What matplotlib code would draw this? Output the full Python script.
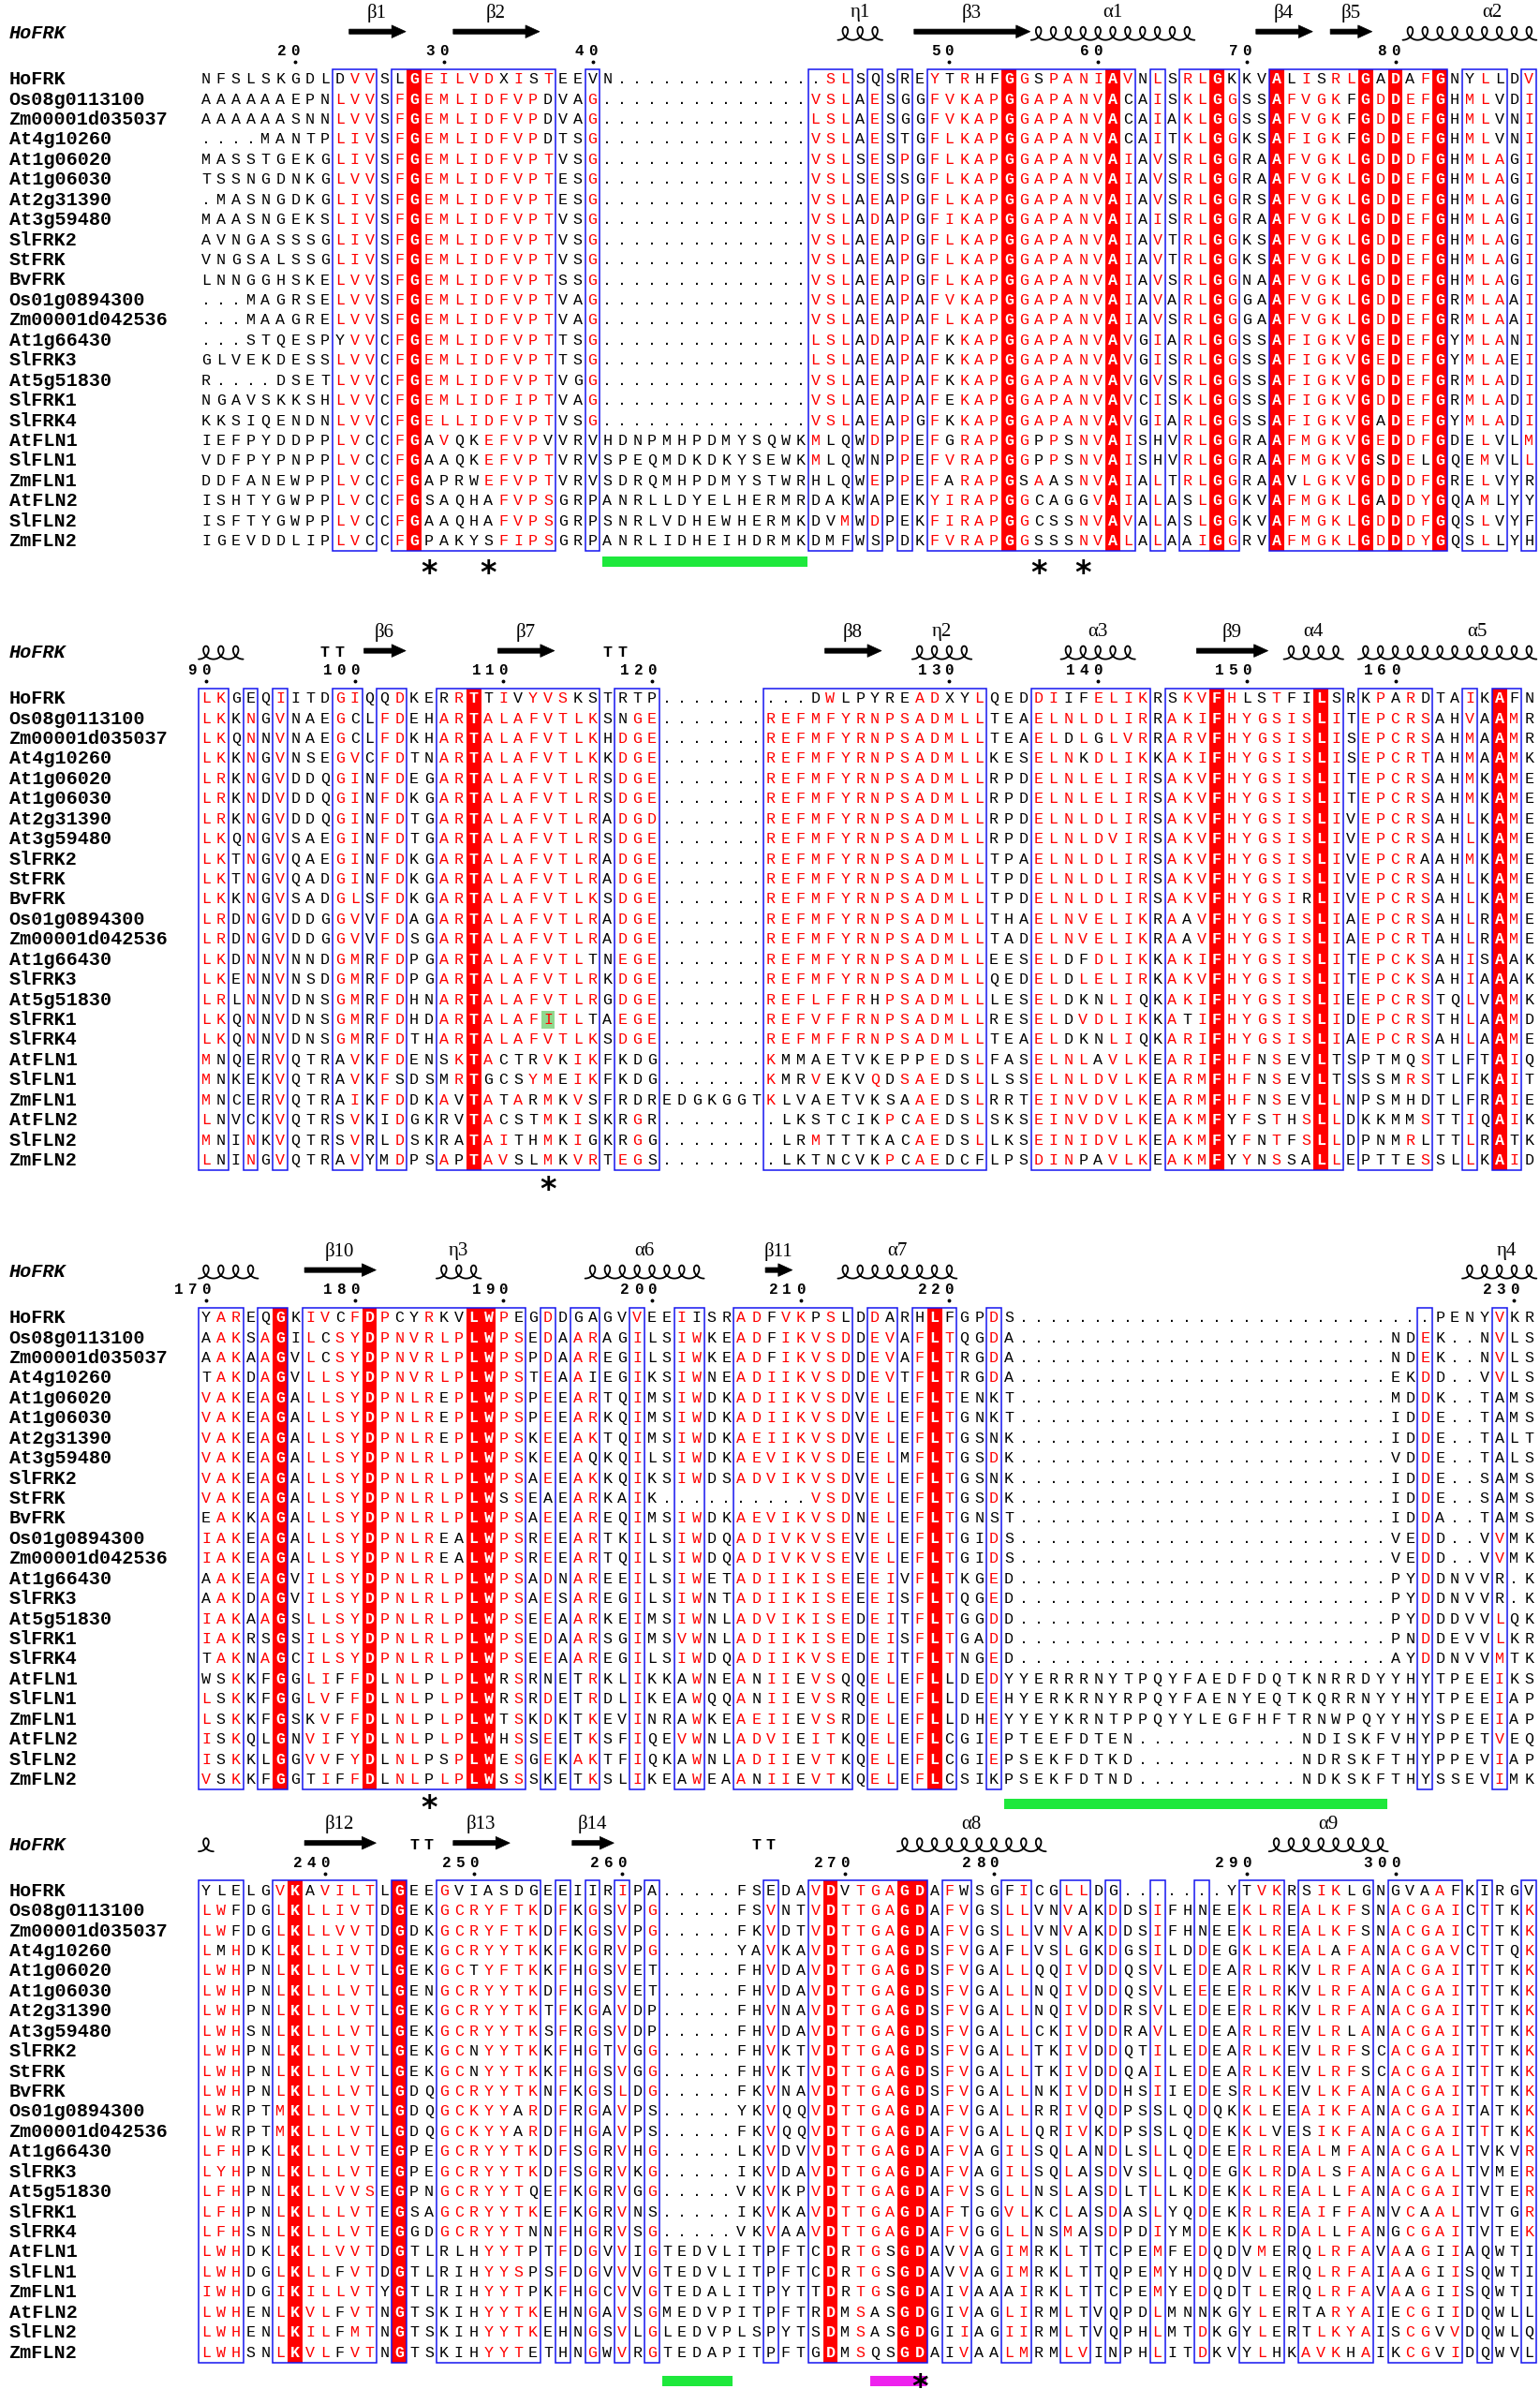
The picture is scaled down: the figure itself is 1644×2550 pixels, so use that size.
import matplotlib
matplotlib.use("Agg")
import matplotlib.pyplot as plt
from matplotlib.patches import Rectangle, Polygon
import numpy as np

names = ["HoFRK", "Os08g0113100", "Zm00001d035037", "At4g10260", "At1g06020",
         "At1g06030", "At2g31390", "At3g59480", "SlFRK2", "StFRK", "BvFRK",
         "Os01g0894300", "Zm00001d042536", "At1g66430", "SlFRK3", "At5g51830",
         "SlFRK1", "SlFRK4", "AtFLN1", "SlFLN1", "ZmFLN1", "AtFLN2", "SlFLN2", "ZmFLN2"]

first_residue = 14  # HoFRK numbering at first column

# ---- block 1 ----
g14 = "." * 14
block1 = [
    "NFSLSKGDLDVVSLGEILVDXISTEEVN" + "." * 13 + ".SLSQSREYTRHFGGSPANIAVNLSRLGKKVALISRLGADAFGNYLLDV",
    "AAAAAAEPNLVVSFGEMLIDFVPDVAG" + g14 + "VSLAESGGFVKAPGGAPANVACAISKLGGSSAFVGKFGDDEFGHMLVDI",
    "AAAAAASNNLVVSFGEMLIDFVPDVAG" + g14 + "LSLAESGGFVKAPGGAPANVACAIAKLGGSSAFVGKFGDDEFGHMLVNI",
    "....MANTPLIVSFGEMLIDFVPDTSG" + g14 + "VSLAESTGFLKAPGGAPANVACAITKLGGKSAFIGKFGDDEFGHMLVNI",
    "MASSTGEKGLIVSFGEMLIDFVPTVSG" + g14 + "VSLSESPGFLKAPGGAPANVAIAVSRLGGRAAFVGKLGDDDFGHMLAGI",
    "TSSNGDNKGLVVSFGEMLIDFVPTESG" + g14 + "VSLSESSGFLKAPGGAPANVAIAVSRLGGRAAFVGKLGDDEFGHMLAGI",
    ".MASNGDKGLIVSFGEMLIDFVPTESG" + g14 + "VSLAEAPGFLKAPGGAPANVAIAVSRLGGRSAFVGKLGDDEFGHMLAGI",
    "MAASNGEKSLIVSFGEMLIDFVPTVSG" + g14 + "VSLADAPGFIKAPGGAPANVAIAISRLGGRAAFVGKLGDDEFGHMLAGI",
    "AVNGASSSGLIVSFGEMLIDFVPTVSG" + g14 + "VSLAEAPGFLKAPGGAPANVAIAVTRLGGKSAFVGKLGDDEFGHMLAGI",
    "VNGSALSSGLIVSFGEMLIDFVPTVSG" + g14 + "VSLAEAPGFLKAPGGAPANVAIAVTRLGGKSAFVGKLGDDEFGHMLAGI",
    "LNNGGHSKELVVSFGEMLIDFVPTSSG" + g14 + "VSLAEAPGFLKAPGGAPANVAIAVSRLGGNAAFVGKLGDDEFGHMLAGI",
    "...MAGRSELVVSFGEMLIDFVPTVAG" + g14 + "VSLAEAPAFVKAPGGAPANVAIAVARLGGGAAFVGKLGDDEFGRMLAAI",
    "...MAAGRELVVSFGEMLIDFVPTVAG" + g14 + "VSLAEAPAFLKAPGGAPANVAIAVSRLGGGAAFVGKLGDDEFGRMLAAI",
    "...STQESPYVVCFGEMLIDFVPTTSG" + g14 + "LSLADAPAFKKAPGGAPANVAVGIARLGGSSAFIGKVGEDEFGYMLANI",
    "GLVEKDESSLVVCFGEMLIDFVPTTSG" + g14 + "LSLAEAPAFKKAPGGAPANVAVGISRLGGSSAFIGKVGEDEFGYMLAEI",
    "R....DSETLVVCFGEMLIDFVPTVGG" + g14 + "VSLAEAPAFKKAPGGAPANVAVGVSRLGGSSAFIGKVGDDEFGRMLADI",
    "NGAVSKKSHLVVCFGEMLIDFIPTVAG" + g14 + "VSLAEAPAFEKAPGGAPANVAVCISKLGGSSAFIGKVGDDEFGRMLADI",
    "KKSIQENDNLVVCFGELLIDFVPTVSG" + g14 + "VSLAEAPGFKKAPGGAPANVAVGIARLGGSSAFIGKVGADEFGYMLADI",
    "IEFPYDDPPLVCCFGAVQKEFVPVVRVHDNPMHPDMYSQWK" + "MLQWDPPEFGRAPGGPPSNVAISHVRLGGRAAFMGKVGEDDFGDELVLM",
    "VDFPYPNPPLVCCFGAAQKEFVPTVRVSPEQMDKDKYSEWK" + "MLQWNPPEFVRAPGGPPSNVAISHVRLGGRAAFMGKVGSDELGQEMVLL",
    "DDFANEWPPLVCCFGAPRWEFVPTVRVSDRQMHPDMYSTWR" + "HLQWEPPEFARAPGSAASNVAIALTRLGGRAAVLGKVGDDDFGRELVYR",
    "ISHTYGWPPLVCCFGSAQHAFVPSGRPANRLLDYELHERMR" + "DAKWAPEKYIRAPGGCAGGVAIALASLGGKVAFMGKLGADDYGQAMLYY",
    "ISFTYGWPPLVCCFGAAQHAFVPSGRPSNRLVDHEWHERMK" + "DVMWDPEKFIRAPGGCSSNVAVALASLGGKVAFMGKLGDDDFGQSLVYF",
    "IGEVDDLIPLVCCFGPAKYSFIPSGRPANRLIDHEIHDRMK" + "DMFWSPDKFVRAPGGSSSNVALALAAIGGRVAFMGKLGDDDYGQSLLYH",
]
frames1 = [(9, 11), (13, 23), (26, 26), (41, 43), (45, 45), (47, 47), (49, 62),
           (64, 64), (66, 69), (72, 83), (85, 87), (89, 89)]
ss1 = [("beta", "β1", 10, 13), ("beta", "β2", 17, 22), ("coil", "η1", 43, 45),
       ("beta", "β3", 48, 55), ("coil", "α1", 56, 66), ("beta", "β4", 71, 74),
       ("beta", "β5", 76, 78), ("coil", "α2", 81, 92)]
stars1 = [15, 19, 56, 59]
bars1 = [(27, 40, "#1ee83c")]

# ---- block 2 ----
g7 = "." * 7
g8 = "." * 8
block2 = [
    "LKGEQIITDGIQQDKERRTTIVYVSKSTRTP" + "." * 10 + "DWLPYREADXYLQEDDIIFELIKRSKVFHLSTFILSRKPARDTAIKAFN",
    "LKKNGVNAEGCLFDEHARTALAFVTLKSNGE" + g7 + "REFMFYRNPSADMLLTEAELNLDLIRRAKIFHYGSISLITEPCRSAHVAAMR",
    "LKQNNVNAEGCLFDKHARTALAFVTLKHDGE" + g7 + "REFMFYRNPSADMLLTEAELDLGLVRRARVFHYGSISLISEPCRSAHMAAMR",
    "LKKNGVNSEGVCFDTNARTALAFVTLKKDGE" + g7 + "REFMFYRNPSADMLLKESELNKDLIKKAKIFHYGSISLISEPCRTAHMAAMK",
    "LRKNGVDDQGINFDEGARTALAFVTLRSDGE" + g7 + "REFMFYRNPSADMLLRPDELNLELIRSAKVFHYGSISLITEPCRSAHMKAME",
    "LRKNDVDDQGINFDKGARTALAFVTLRSDGE" + g7 + "REFMFYRNPSADMLLRPDELNLELIRSAKVFHYGSISLITEPCRSAHMKAME",
    "LRKNGVDDQGINFDTGARTALAFVTLRADGD" + g7 + "REFMFYRNPSADMLLRPDELNLDLIRSAKVFHYGSISLIVEPCRSAHLKAME",
    "LKQNGVSAEGINFDTGARTALAFVTLRSDGE" + g7 + "REFMFYRNPSADMLLRPDELNLDVIRSAKVFHYGSISLIVEPCRSAHLKAME",
    "LKTNGVQAEGINFDKGARTALAFVTLRADGE" + g7 + "REFMFYRNPSADMLLTPAELNLDLIRSAKVFHYGSISLIVEPCRAAHMKAME",
    "LKTNGVQADGINFDKGARTALAFVTLRADGE" + g7 + "REFMFYRNPSADMLLTPDELNLDLIRSAKVFHYGSISLIVEPCRSAHLKAME",
    "LKKNGVSADGLSFDKGARTALAFVTLKSDGE" + g7 + "REFMFYRNPSADMLLTPDELNLDLIRSAKVFHYGSIRLIVEPCRSAHLKAME",
    "LRDNGVDDGGVVFDAGARTALAFVTLRADGE" + g7 + "REFMFYRNPSADMLLTHAELNVELIKRAAVFHYGSISLIAEPCRSAHLRAME",
    "LRDNGVDDGGVVFDSGARTALAFVTLRADGE" + g7 + "REFMFYRNPSADMLLTADELNVELIKRAAVFHYGSISLIAEPCRTAHLRAME",
    "LKDNNVNNDGMRFDPGARTALAFVTLTNEGE" + g7 + "REFMFYRNPSADMLLEESELDFDLIKKAKIFHYGSISLITEPCKSAHISAAK",
    "LKENNVNSDGMRFDPGARTALAFVTLRKDGE" + g7 + "REFMFYRNPSADMLLQEDELDLELIRKAKVFHYGSISLITEPCKSAHIAAAK",
    "LRLNNVDNSGMRFDHNARTALAFVTLRGDGE" + g7 + "REFLFFRHPSADMLLLESELDKNLIQKAKIFHYGSISLIEEPCRSTQLVAMK",
    "LKQNNVDNSGMRFDHDARTALAFITLTAEGE" + g7 + "REFVFFRNPSADMLLRESELDVDLIKKATIFHYGSISLIDEPCRSTHLAAMD",
    "LKQNNVDNSGMRFDTHARTALAFVTLKSDGE" + g7 + "REFMFFRNPSADMLLTEAELDKNLIQKARIFHYGSISLIAEPCRSAHLAAME",
    "MNQERVQTRAVKFDENSKTACTRVKIKFKDG" + g7 + "KMMAETVKEPPEDSLFASELNLAVLKEARIFHFNSEVLTSPTMQSTLFTAIQ",
    "MNKEKVQTRAVKFSDSMRTGCSYMEIKFKDG" + g7 + "KMRVEKVQDSAEDSLLSSELNLDVLKEARMFHFNSEVLTSSSMRSTLFKAIT",
    "MNCERVQTRAIKFDDKAVTATARMKVSFRDREDGKGG" + "TKLVAETVKSAAEDSLRRTEINVDVLKEARMFHFNSEVLLNPSMHDTLFRAIE",
    "LNVCKVQTRSVKIDGKRVTACSTMKISKRGR" + g8 + "LKSTCIKPCAEDSLSKSEINVDVLKEAKMFYFSTHSLLDKKMMSTTIQAIK",
    "MNINKVQTRSVRLDSKRATAITHMKIGKRGG" + g8 + "LRMTTTKACAEDSLLKSEINIDVLKEAKMFYFNTFSLLDPNMRLTTLRATK",
    "LNINGVQTRAVYMDPSAPTAVSLMKVRTEGS" + g8 + "LKTNCVKPCAEDCFLPSDINPAVLKEAKMFYYNSSALLEPTTESSLLKAID",
]
frames2 = [(0, 1), (3, 3), (5, 5), (9, 10), (12, 13), (16, 26), (28, 30), (38, 52),
           (56, 63), (65, 76), (78, 82), (85, 85), (87, 88)]
ss2 = [("coil", "", -3, 2), ("turn", "TT", 8, 9), ("beta", "β6", 11, 13),
       ("beta", "β7", 20, 23), ("turn", "TT", 27, 28), ("beta", "β8", 42, 45),
       ("coil", "η2", 48, 51), ("coil", "α3", 58, 62), ("beta", "β9", 67, 71),
       ("coil", "α4", 73, 76), ("coil", "α5", 78, 93)]
stars2 = [23]
bars2 = []
marked2 = [(16, 23)]  # SlFRK1 residue highlighted in green

# ---- block 3 ----
g25 = "." * 25
g11 = "." * 11
block3 = [
    "YAREQGKIVCFDPCYRKVLWPEGDDGAGVVEEIISRADF" + "VKPSLDDARHLFGPDS" + "." * 28 + "PENYVKR",
    "AAKSAGILCSYDPNVRLPLWPSEDAARAGILSIWKEADF" + "IKVSDDEVAFLTQGDA" + g25 + "NDEK..NVLS",
    "AAKAAGVLCSYDPNVRLPLWPSPDAAREGILSIWKEADF" + "IKVSDDEVAFLTRGDA" + g25 + "NDEK..NVLS",
    "TAKDAGVLLSYDPNVRLPLWPSTEAAIEGIKSIWNEADI" + "IKVSDDEVTFLTRGDA" + g25 + "EKDD..VVLS",
    "VAKEAGALLSYDPNLREPLWPSPEEARTQIMSIWDKADI" + "IKVSDVELEFLTENKT" + g25 + "MDDK..TAMS",
    "VAKEAGALLSYDPNLREPLWPSPEEARKQIMSIWDKADI" + "IKVSDVELEFLTGNKT" + g25 + "IDDE..TAMS",
    "VAKEAGALLSYDPNLREPLWPSKEEAKTQIMSIWDKAEI" + "IKVSDVELEFLTGSNK" + g25 + "IDDE..TALT",
    "VAKEAGALLSYDPNLRLPLWPSKEEAQKQILSIWDKAEV" + "IKVSDEELMFLTGSDK" + g25 + "VDDE..TALS",
    "VAKEAGALLSYDPNLRLPLWPSAEEAKKQIKSIWDSADV" + "IKVSDVELEFLTGSNK" + g25 + "IDDE..SAMS",
    "VAKEAGALLSYDPNLRLPLWSSEAEARKAIK" + g8 + "..VSDVELEFLTGSDK" + g25 + "IDDE..SAMS",
    "EAKKAGALLSYDPNLRLPLWPSAEEAREQIMSIWDKAEV" + "IKVSDNELEFLTGNST" + g25 + "IDDA..TAMS",
    "IAKEAGALLSYDPNLREALWPSREEARTKILSIWDQADI" + "VKVSEVELEFLTGIDS" + g25 + "VEDD..VVMK",
    "IAKEAGALLSYDPNLREALWPSREEARTQILSIWDQADI" + "VKVSEVELEFLTGIDS" + g25 + "VEDD..VVMK",
    "AAKEAGVILSYDPNLRLPLWPSADNAREEILSIWETADI" + "IKISEEEIVFLTKGED" + g25 + "PYDDNVVR.K",
    "AAKDAGVILSYDPNLRLPLWPSAESAREGILSIWNTADI" + "IKISEEEISFLTQGED" + g25 + "PYDDNVVR.K",
    "IAKAAGSLLSYDPNLRLPLWPSEEAARKEIMSIWNLADV" + "IKISEDEITFLTGGDD" + g25 + "PYDDDVVLQK",
    "IAKRSGSILSYDPNLRLPLWPSEDAARSGIMSVWNLADI" + "IKISEDEISFLTGADD" + g25 + "PNDDEVVLKR",
    "TAKNAGCILSYDPNLRLPLWPSEEAAREGILSIWDQADI" + "IKVSEDEITFLTNGED" + g25 + "AYDDNVVMTK",
    "WSKKFGGLIFFDLNLPLPLWRSRNETRKLIKKAWNEANI" + "IEVSQQELEFLLDED" + "YYERRRNYTPQYFAEDFDQTKNRRDYYH" + "YTPEEIKS",
    "LSKKFGGLVFFDLNLPLPLWRSRDETRDLIKEAWQQANI" + "IEVSRQELEFLLDEE" + "HYERKRNYRPQYFAENYEQTKQRRNYYH" + "YTPEEIAP",
    "LSKKFGSKVFFDLNLPLPLWTSKDKTKEVINRAWKEAEI" + "IEVSRDELEFLLDHE" + "YYEYKRNTPPQYYLEGFHFTRNWPQYYH" + "YSPEEIAP",
    "ISKQLGNVIFYDLNLPLPLWHSSEETKSFIQEVWNLADV" + "IEITKQELEFLCGIE" + "PTEEFDTEN" + g11 + "NDISKFVH" + "YPPETVEQ",
    "ISKKLGGVVFYDLNLPSPLWESGEKAKTFIQKAWNLADI" + "IEVTKQELEFLCGIE" + "PSEKFDTKD" + g11 + "NDRSKFTH" + "YPPEVIAP",
    "VSKKFGGTIFFDLNLPLPLWSSSKETKSLIKEAWEAANI" + "IEVTKQELEFLCSIK" + "PSEKFDTND" + g11 + "NDKSKFTH" + "YSSEVIMK",
]
frames3 = [(0, 2), (4, 5), (7, 21), (23, 23), (25, 26), (29, 29), (32, 33), (36, 43),
           (45, 46), (48, 50), (53, 53), (82, 82), (87, 87)]
ss3 = [("coil", "", -4, 3), ("beta", "β10", 7, 11), ("coil", "η3", 16, 18),
       ("coil", "α6", 26, 33), ("beta", "β11", 38, 39), ("coil", "α7", 43, 50),
       ("coil", "η4", 85, 90)]
stars3 = [15]
bars3 = [(54, 79, "#1ee83c")]

# ---- block 4 ----
d5 = "." * 5
block4 = [
    "YLELGVKAVILTLGEEGVIASDGEEIIRIPA" + d5 + "F" + "SEDAVDVTGAGDAFWSGFICGLLDG" + "." * 7 + "YTVKRSIKLGNGVAAFKIRGV",
    "LWFDGLKLLIVTDGEKGCRYFTKDFKGSVPG" + d5 + "F" + "SVNTVDTTGAGDAFVGSLLVNVAKDDSIFHNEEKLREALKFSNACGAICTTKK",
    "LWFDGLKLLVVTDGDKGCRYFTKDFKGSVPG" + d5 + "F" + "KVDTVDTTGAGDAFVGSLLVNVAKDDSIFHNEEKLREALKFSNACGAICTTKK",
    "LMHDKLKLLIVTDGEKGCRYYTKKFKGRVPG" + d5 + "Y" + "AVKAVDTTGAGDSFVGAFLVSLGKDGSILDDEGKLKEALAFANACGAVCTTQK",
    "LWHPNLKLLLVTLGEKGCTYFTKKFHGSVET" + d5 + "F" + "HVDAVDTTGAGDSFVGALLQQIVDDQSVLEDEARLRKVLRFANACGAITTTKK",
    "LWHPNLKLLLVTLGENGCRYYTKDFHGSVET" + d5 + "F" + "HVDAVDTTGAGDSFVGALLNQIVDDQSVLEEEERLRKVLRFANACGAITTTKK",
    "LWHPNLKLLLVTLGEKGCRYYTKTFKGAVDP" + d5 + "F" + "HVNAVDTTGAGDSFVGALLNQIVDDRSVLEDEERLRKVLRFANACGAITTTKK",
    "LWHSNLKLLLVTLGEKGCRYYTKSFRGSVDP" + d5 + "F" + "HVDAVDTTGAGDSFVGALLCKIVDDRAVLEDEARLREVLRLANACGAITTTKK",
    "LWHPNLKLLLVTLGEKGCNYYTKKFHGTVGG" + d5 + "F" + "HVKTVDTTGAGDSFVGALLTKIVDDQTILEDEARLKEVLRFSCACGAITTTKK",
    "LWHPNLKLLLVTLGEKGCNYYTKKFHGSVGG" + d5 + "F" + "HVKTVDTTGAGDSFVGALLTKIVDDQAILEDEARLKEVLRFSCACGAITTTKK",
    "LWHPNLKLLLVTLGDQGCRYYTKNFKGSLDG" + d5 + "F" + "KVNAVDTTGAGDSFVGALLNKIVDDHSIIEDESRLKEVLKFANACGAITTTKK",
    "LWRPTMKLLLVTLGDQGCKYYARDFRGAVPS" + d5 + "Y" + "KVQQVDTTGAGDAFVGALLRRIVQDPSSLQDQKKLEEAIKFANACGAITATKK",
    "LWRPTMKLLLVTLGDQGCKYYARDFHGAVPS" + d5 + "F" + "KVQQVDTTGAGDAFVGALLQRIVKDPSSLQDEKKLVESIKFANACGAITTTKK",
    "LFHPKLKLLLVTEGPEGCRYYTKDFSGRVHG" + d5 + "L" + "KVDVVDTTGAGDAFVAGILSQLANDLSLLQDEERLREALMFANACGALTVKVR",
    "LYHPNLKLLLVTEGPEGCRYYTKDFSGRVKG" + d5 + "I" + "KVDAVDTTGAGDAFVAGILSQLASDVSLLQDEGKLRDALSFANACGALTVMER",
    "LFHPNLKLLVVSEGPNGCRYYTQEFKGRVGG" + d5 + "V" + "KVKPVDTTGAGDAFVSGLLNSLASDLTLLKDEKKLREALLFANACGAITVTER",
    "LFHPNLKLLLVTEGSAGCRYYTKEFKGRVNS" + d5 + "I" + "KVKAVDTTGAGDAFTGGVLKCLASDASLYQDEKRLREAIFFANVCAALTVTGR",
    "LFHSNLKLLLVTEGGDGCRYYTNNFHGRVSG" + d5 + "V" + "KVAAVDTTGAGDAFVGGLLNSMASDPDIYMDEKKLRDALLFANGCGAITVTEK",
    "LWHDKLKLLVVTDGTLRLHYYTPTFDGVVIGTEDVLI" + "TPFTCDRTGSGDAVVAGIMRKLTTCPEMFEDQDVMERQLRFAVAAGIIAQWTI",
    "LWHDGLKLLFVTDGTLRIHYYSPSFDGVVVGTEDVLI" + "TPFTCDRTGSGDAVVAGIMRKLTTQPEMYHDQDVLERQLRFAIAAGIISQWTI",
    "IWHDGIKILLVTYGTLRIHYYTPKFHGCVVGTEDALI" + "TPYTTDRTGSGDAIVAAAIRKLTTCPEMYEDQDTLERQLRFAVAAGIISQWTI",
    "LWHENLKVLFVTNGTSKIHYYTKEHNGAVSGMEDVPI" + "TPFTRDMSASGDGIVAGLIRMLTVQPDLMNNKGYLERTARYAIECGIIDQWLL",
    "LWHENLKILFMTNGTSKIHYYTKEHNGSVLGLEDVPL" + "SPYTSDMSASGDGIIAGIIRMLTVQPHLMTDKGYLERTLKYAISCGVVDQWLQ",
    "LWHSNLKVLFVTNGTSKIHYYTETHNGWVRGTEDAPI" + "TPFTGDMSQSGDAIVAALMRMLVINPHLITDKVYLHKAVKHAIKCGVIDQWVL",
]
frames4 = [(0, 2), (5, 11), (13, 13), (16, 22), (24, 24), (26, 26), (28, 28), (30, 30),
           (38, 38), (41, 48), (50, 51), (54, 55), (58, 59), (61, 61), (64, 64), (67, 67),
           (70, 72), (74, 78), (80, 84), (86, 86), (89, 89)]
ss4 = [("coil", "", -5, 0), ("beta", "β12", 7, 11), ("turn", "TT", 14, 15),
       ("beta", "β13", 17, 20), ("beta", "β14", 25, 27), ("turn", "TT", 37, 38),
       ("coil", "α8", 47, 56), ("coil", "α9", 72, 79)]
stars4 = [48]
bars4 = [(31, 35, "#1ee83c"), (45, 48, "#ee22ee")]

blocks = [
    dict(rows=block1, frames=frames1, ss=ss1, stars=stars1, bars=bars1, marked=[]),
    dict(rows=block2, frames=frames2, ss=ss2, stars=stars2, bars=bars2, marked=marked2),
    dict(rows=block3, frames=frames3, ss=ss3, stars=stars3, bars=bars3, marked=[]),
    dict(rows=block4, frames=frames4, ss=ss4, stars=stars4, bars=bars4, marked=[]),
]

for bi, b in enumerate(blocks):
    bad = [(i, len(r)) for i, r in enumerate(b["rows"]) if len(r) != 90]
    if bad:
        raise ValueError("block %d bad rows %s" % (bi + 1, bad))

# layout (pixels)
X0 = 212.0
CW = 15.87
RH = 21.43
ROW0 = [84.7, 745.6, 1406.6, 2018.2]
STAR_DY = [26, 24, 23, 29]
BAR_DY = [22, 24, 26, 30]
NCOL = 90

RED = "#ff0000"
BLUE = "#1515f0"
MONO = "Liberation Mono"

GROUPS = ["ILMV", "FYW", "KR", "H", "DE", "NQ", "ST", "A", "G", "P", "C", "X"]


def grp(ch):
    for k, g in enumerate(GROUPS):
        if ch in g:
            return k
    return -1


def colx(c):
    return X0 + (c + 0.5) * CW


fig = plt.figure(figsize=(16.44, 25.5), dpi=100)
ax = fig.add_axes([0, 0, 1, 1])
ax.set_xlim(0, 1644)
ax.set_ylim(2550, 0)
ax.axis("off")


def draw_coil(c0, c1, yb):
    n = c1 - c0 + 1
    t = np.linspace(0, 2 * np.pi * n, 80 * n)
    c = CW / (2 * np.pi)
    x = X0 + c0 * CW + c * t + 6.3 * np.sin(t)
    y = yb - 7.0 * (1 - np.cos(t))
    ax.plot(x, y, color="black", lw=1.3, solid_capstyle="round")


def draw_arrow(c0, c1, yc):
    xs = X0 + c0 * CW + 2
    xe = X0 + (c1 + 1) * CW - 1
    hl = 15
    pts = [(xs, yc - 2.6), (xe - hl, yc - 2.6), (xe - hl, yc - 6.8), (xe, yc),
           (xe - hl, yc + 6.8), (xe - hl, yc + 2.6), (xs, yc + 2.6)]
    ax.add_patch(Polygon(pts, closed=True, facecolor="black", edgecolor="black", lw=0.5))


residue = first_residue - 1
for bi, b in enumerate(blocks):
    rows = b["rows"]
    y0 = ROW0[bi]
    last = y0 + (len(rows) - 1) * RH
    top = y0 - RH / 2
    height = len(rows) * RH

    # identical columns -> red boxes
    ident = set()
    for c in range(NCOL):
        col = [r[c] for r in rows]
        if col[0] != "." and all(ch == col[0] for ch in col):
            ident.add(c)
            ax.add_patch(Rectangle((X0 + c * CW, top), CW, height, facecolor=RED,
                                   edgecolor="none", zorder=1))

    for (ri, c) in b["marked"]:
        ax.add_patch(Rectangle((X0 + c * CW + 1, y0 + ri * RH - RH / 2 + 1), CW - 2, RH - 2,
                               facecolor="#8fd98f", edgecolor="none", zorder=1))

    framed = set()
    for (c0, c1) in b["frames"]:
        ax.add_patch(Rectangle((X0 + c0 * CW, top), (c1 - c0 + 1) * CW, height,
                               facecolor="none", edgecolor=BLUE, lw=1.1, zorder=3))
        framed.update(range(c0, c1 + 1))

    # similarity colouring inside frames
    redcells = set()
    for c in framed:
        if c in ident:
            continue
        col = [r[c] for r in rows]
        counts = {}
        for ch in col:
            if ch != ".":
                counts[grp(ch)] = counts.get(grp(ch), 0) + 1
        if not counts:
            continue
        cons = max(counts, key=counts.get)
        for i, ch in enumerate(col):
            if ch != "." and grp(ch) == cons:
                redcells.add((i, c))

    # residues
    for i, r in enumerate(rows):
        y = y0 + i * RH
        ax.text(9.6, y, names[i], ha="left", va="center", fontsize=14.5,
                family=MONO, fontweight="bold", color="black")
        for c, ch in enumerate(r):
            if c in ident:
                ax.text(colx(c), y, ch, ha="center", va="center", fontsize=12,
                        family=MONO, fontweight="bold", color="white", zorder=4)
            elif (i, c) in redcells:
                ax.text(colx(c), y, ch, ha="center", va="center", fontsize=12,
                        family=MONO, color=RED, zorder=4)
            else:
                ax.text(colx(c), y, ch, ha="center", va="center", fontsize=12,
                        family=MONO, color="black", zorder=4)

    # header: name, numbering ruler
    ax.text(9.6, y0 - 49, "HoFRK", ha="left", va="center", fontsize=14.5,
            family=MONO, fontweight="bold", fontstyle="italic")
    for c, ch in enumerate(rows[0]):
        if ch != ".":
            residue += 1
            if residue % 10 == 0:
                s = str(residue)
                for k, d in enumerate(reversed(s)):
                    ax.text(colx(c) - k * 14.5, y0 - 30, d, ha="center", va="center",
                            fontsize=11.5, family=MONO, fontweight="bold")
                ax.plot([colx(c)], [y0 - 18.5], marker="o", ms=1.8, color="black")

    # secondary structure
    for kind, label, s0, s1 in b["ss"]:
        c0, c1 = max(s0, 0), min(s1, NCOL - 1)
        xl = X0 + (s0 + s1 + 1) / 2 * CW
        if kind == "beta":
            draw_arrow(c0, c1, y0 - 51)
        elif kind == "coil":
            draw_coil(c0, c1, y0 - 42)
        elif kind == "turn":
            for c in range(c0, c1 + 1):
                ax.text(colx(c), y0 - 49, "T", ha="center", va="center", fontsize=12,
                        family=MONO, fontweight="bold")
            continue
        if label:
            ax.text(xl, y0 - 71, label, ha="center", va="center", fontsize=15,
                    family="Liberation Serif")

    # bottom annotations
    for (c0, c1, colr) in b["bars"]:
        ax.add_patch(Rectangle((X0 + c0 * CW + 3, last + BAR_DY[bi] - 5.5),
                               (c1 - c0 + 1) * CW - 4, 11, facecolor=colr, edgecolor="none"))
    for c in b["stars"]:
        ax.text(colx(c), last + STAR_DY[bi] + 18, "*", ha="center", va="baseline",
                fontsize=24, family="DejaVu Sans", fontweight="bold", zorder=5)

fig.savefig("out.png", dpi=100)
